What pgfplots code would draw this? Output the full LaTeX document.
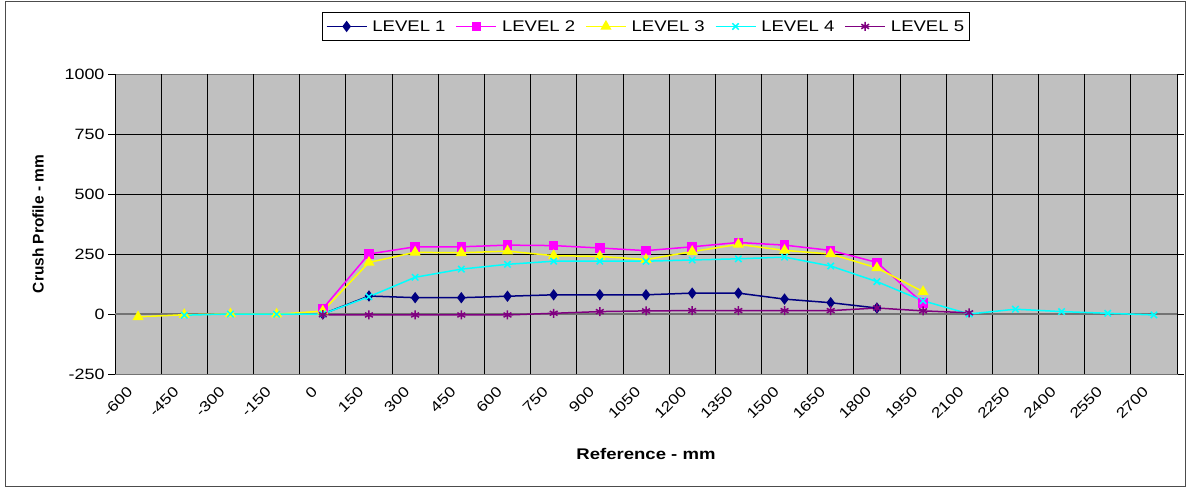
\documentclass[border=0pt]{standalone}
\usepackage{fontspec}
\setmainfont[FakeStretch=1.2]{Liberation Sans}
\newfontfamily\plainsans{Liberation Sans}
\usepackage{pgfplots}
\pgfplotsset{compat=1.18}
\definecolor{plotgray}{HTML}{C0C0C0}
\definecolor{lvone}{HTML}{000080}
\definecolor{lvtwo}{HTML}{FF00FF}
\definecolor{lvthree}{HTML}{FFFF00}
\definecolor{lvfour}{HTML}{00FFFF}
\definecolor{lvfive}{HTML}{800080}
\begin{document}
\begin{tikzpicture}
\useasboundingbox (0,0) rectangle (1188bp,489bp);
\fill[white] (0,0) rectangle (1188bp,489bp);
\draw[black!70, line width=1bp] (5.5bp,2.5bp) rectangle (1185bp,487bp);
\begin{axis}[
  at={(115bp,115bp)}, anchor=south west,
  scale only axis, width=1062bp, height=300bp,
  axis background/.style={fill=plotgray},
  axis line style={black!55, line width=0.9bp},
  xmin=-0.5, xmax=22.5, ymin=-250, ymax=1000,
  xtick={0,...,22},
  xticklabels={-600,-450,-300,-150,0,150,300,450,600,750,900,1050,1200,1350,1500,1650,1800,1950,2100,2250,2400,2550,2700},
  x tick style={draw=none},
  extra x ticks={-0.5,0.5,...,22.5},
  extra x tick labels={},
  extra x tick style={grid=major, tick style={black, line width=0.8bp, draw=black}},
  ytick={-250,0,250,500,750,1000},
  yticklabels={-250,0,250,500,750,1000},
  extra y ticks={0},
  extra y tick labels={},
  extra y tick style={grid=major, major grid style={black!55, line width=1.8bp}},
  ymajorgrids,
  major grid style={black, line width=0.8bp},
  tick align=outside, major tick length=7bp,
  y tick style={black, line width=0.8bp},
  tick label style={font=\fontsize{15}{18}\selectfont},
  xticklabel style={font=\fontsize{14.5}{17}\selectfont, rotate=45, anchor=east, xshift=-8bp},
  xlabel={Reference - mm},
  ylabel={Crush Profile - mm},
  xlabel style={font=\fontsize{15.5}{18}\selectfont\bfseries, at={([yshift=-80bp]axis description cs:0.5,0)}, anchor=center},
  ylabel style={font=\plainsans\fontsize{15.5}{18}\selectfont\bfseries, at={([xshift=-77bp]axis description cs:0,0.5)}, anchor=center},
  legend columns=5,
  legend style={at={(axis description cs:0.5,1)}, anchor=south, yshift=33bp,
    draw=black, fill=white, line width=0.8bp, inner xsep=3bp, inner ysep=6bp,
    font=\fontsize{15.5}{18}\selectfont,
    nodes={inner xsep=2bp},
    /tikz/every odd column/.append style={column sep=3bp},
    /tikz/every even column/.append style={column sep=8bp}},
  legend image code/.code={\draw[mark repeat=2,mark phase=2] plot coordinates {(0bp,0bp) (20bp,0bp) (40bp,0bp)};},
  every axis plot/.append style={line width=1.5bp},
]
\addplot[lvone, mark=diamond*, mark size=4.5bp, mark options={solid, fill=lvone}] coordinates {
(4,0) (5,75) (6,68) (7,68) (8,74) (9,80) (10,80) (11,80) (12,87) (13,87) (14,62) (15,47) (16,25)};
\addlegendentry{LEVEL 1}
\addplot[lvtwo, mark=square*, mark size=4bp, mark options={solid, fill=lvtwo}] coordinates {
(4,22) (5,250) (6,280) (7,280) (8,287) (9,285) (10,275) (11,264) (12,280) (13,298) (14,287) (15,265) (16,215) (17,45)};
\addlegendentry{LEVEL 2}
\addplot[lvthree, mark=triangle*, mark size=5bp, mark options={solid, fill=lvthree}] coordinates {
(0,-12) (1,-3) (2,0) (3,-1) (4,12) (5,215) (6,257) (7,255) (8,262) (9,243) (10,240) (11,227) (12,260) (13,290) (14,265) (15,250) (16,192) (17,93)};
\addlegendentry{LEVEL 3}
\addplot[lvfour, mark=x, mark size=4.5bp, mark options={solid}] coordinates {
(1,-5) (2,0) (3,-1) (4,0) (5,72) (6,153) (7,187) (8,207) (9,220) (10,220) (11,220) (12,225) (13,230) (14,237) (15,200) (16,135) (17,55) (18,0) (19,20) (20,10) (21,3) (22,-4)};
\addlegendentry{LEVEL 4}
\addplot[lvfive, mark=asterisk, mark size=4.5bp, mark options={solid}] coordinates {
(4,-3) (5,-4) (6,-4) (7,-4) (8,-4) (9,3) (10,10) (11,13) (12,14) (13,14) (14,14) (15,14) (16,25) (17,13) (18,5)};
\addlegendentry{LEVEL 5}
\end{axis}
\end{tikzpicture}
\end{document}
